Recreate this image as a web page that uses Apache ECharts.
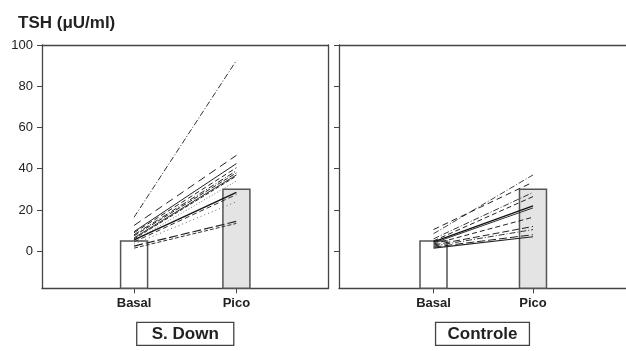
<!DOCTYPE html>
<html>
<head>
<meta charset="utf-8">
<script src="https://cdn.jsdelivr.net/npm/echarts@6/dist/echarts.min.js"></script>
<style>html,body{margin:0;padding:0;background:#fff;overflow:hidden}#c{width:626px;height:351px}</style>
</head>
<body>
<div id="c"></div>
<script>
const categories = ['Basal', 'Pico'];
const groupNames = ['S. Down', 'Controle'];
const yTicks = [0, 20, 40, 60, 80, 100];
const downMeans = [5, 30];
const controlMeans = [5, 30];
const downBasal = [16.5, 12.5, 9.5, 9, 8, 7.5, 6.5, 6, 5, 5.5, 4.5, 3.5, 2.5, 1.5];
const downPico  = [92.5, 46.5, 42.5, 40.5, 39, 38, 37, 36.5, 34, 28.5, 27.5, 24, 14.5, 13.5];
const controlBasal = [8.5, 10.5, 6, 5, 4.5, 4, 3.5, 3, 2.5, 2, 1.5];
const controlPico  = [37, 33.5, 28.5, 26.5, 22, 21, 16.5, 12, 10.5, 8, 7];

const dashStyles = [
  {type: [6, 2, 1, 2], color: '#333', width: 1},
  {type: [8, 5], color: '#222', width: 1},
  {type: 'solid', color: '#222', width: 1},
  {type: [5, 3], color: '#222', width: 1},
  {type: [6, 2, 1, 2], color: '#222', width: 1},
  {type: [5, 2], color: '#222', width: 1},
  {type: 'solid', color: '#333', width: 1},
  {type: [4, 2], color: '#222', width: 1},
  {type: [1, 2], color: '#777', width: 1},
  {type: 'solid', color: '#111', width: 1.3},
  {type: [5, 3], color: '#333', width: 1},
  {type: [1, 3], color: '#666', width: 1},
  {type: [9, 3], color: '#222', width: 1.2},
  {type: [4, 2], color: '#333', width: 1}
];
const ctlStyles = [
  {type: [6, 2, 1, 2], color: '#444', width: 1},
  {type: [6, 4], color: '#222', width: 1},
  {type: [6, 2, 1, 2], color: '#333', width: 1},
  {type: [5, 3], color: '#222', width: 1},
  {type: 'solid', color: '#111', width: 1.3},
  {type: 'solid', color: '#333', width: 1},
  {type: [5, 3], color: '#222', width: 1},
  {type: [7, 3], color: '#222', width: 1},
  {type: [6, 2, 1, 2], color: '#333', width: 1},
  {type: [8, 3], color: '#222', width: 1},
  {type: 'solid', color: '#222', width: 1.1}
];

const chart = echarts.init(document.getElementById('c'), null, {renderer: 'canvas'});
const axisColor = '#444';
const Y_MIN = -18, Y_MAX = 100;
const FONT = 'Liberation Sans, Arial, sans-serif';

function makeX(idx, min, max, hpad) {
  return {
    type: 'value', gridIndex: idx, min: min, max: max,
    splitLine: {show: false},
    axisLine: {show: true, onZero: false, lineStyle: {color: axisColor, width: 1.3}},
    axisTick: {show: true, customValues: [0, 1], length: 5, lineStyle: {color: axisColor}},
    axisLabel: {customValues: [0, 1], formatter: v => categories[Math.round(v)],
      fontFamily: FONT, fontWeight: 'bold', fontSize: 13, color: '#222', margin: 9},
    name: groupNames[idx], nameLocation: 'middle', nameGap: 34,
    nameTextStyle: {fontFamily: FONT, fontWeight: 'bold', fontSize: 17, color: '#222',
      borderColor: '#444', borderWidth: 1.3, padding: [2, hpad, 1, hpad], lineHeight: 20}
  };
}
function makeY(idx, showLabels) {
  return {
    type: 'value', gridIndex: idx, min: Y_MIN, max: Y_MAX,
    splitLine: {show: false},
    axisLine: {show: true, onZero: false, lineStyle: {color: axisColor, width: 1.3}},
    axisTick: {show: true, customValues: yTicks, length: 5, lineStyle: {color: axisColor}},
    axisLabel: {show: showLabels, customValues: yTicks, fontFamily: FONT,
      fontSize: 13, color: '#222', margin: 9}
  };
}
// top border line of a panel, drawn as an extra x axis at the top
function makeTopX(idx, min, max) {
  return {
    type: 'value', gridIndex: idx, min: min, max: max, position: 'top',
    splitLine: {show: false}, axisTick: {show: false}, axisLabel: {show: false},
    axisLine: {show: true, onZero: false, lineStyle: {color: axisColor, width: 1.3}}
  };
}
function makeRightY(idx) {
  return {
    type: 'value', gridIndex: idx, min: Y_MIN, max: Y_MAX, position: 'right',
    splitLine: {show: false}, axisTick: {show: false}, axisLabel: {show: false},
    axisLine: {show: true, onZero: false, lineStyle: {color: axisColor, width: 1.3}}
  };
}

function barSeries(idx, means, fills) {
  return {
    type: 'custom', xAxisIndex: idx, yAxisIndex: idx, z: 1,
    data: means.map((v, i) => [i, v]),
    renderItem: function (params, api) {
      const i = api.value(0);
      const top = api.coord([i, api.value(1)]);
      const bot = api.coord([i, Y_MIN]);
      const w = 27;
      return {
        type: 'rect',
        shape: {x: top[0] - w / 2, y: top[1], width: w, height: bot[1] - top[1]},
        style: {fill: fills[i], stroke: '#555', lineWidth: 1.5}
      };
    }
  };
}

function lineSeries(idx, basal, pico, styles) {
  return basal.map((b, k) => ({
    type: 'line', xAxisIndex: idx, yAxisIndex: idx, z: 3,
    symbol: 'none', silent: true, animation: false,
    data: [[0, b], [1, pico[k]]],
    lineStyle: styles[k % styles.length]
  }));
}

const option = {
  animation: false,
  backgroundColor: '#fff',
  title: {
    text: 'TSH (μU/ml)', left: 13, top: 10,
    textStyle: {fontFamily: FONT, fontWeight: 'bold', fontSize: 17, color: '#222'}
  },
  grid: [
    {left: 42, top: 45, width: 286.5, height: 248},
    {left: 339, top: 45, width: 287, height: 248}
  ],
  xAxis: [makeX(0, -0.9, 1.9, 15), makeX(1, -0.95, 1.935, 12), makeTopX(0, -0.9, 1.9), makeTopX(1, -0.95, 1.935)],
  yAxis: [makeY(0, true), makeY(1, false), makeRightY(0)],
  series: [
    barSeries(0, downMeans, ['#ffffff', '#e4e4e4']),
    barSeries(1, controlMeans, ['#ffffff', '#e4e4e4']),
    ...lineSeries(0, downBasal, downPico, dashStyles),
    ...lineSeries(1, controlBasal, controlPico, ctlStyles)
  ]
};
chart.setOption(option);
</script>
</body>
</html>
